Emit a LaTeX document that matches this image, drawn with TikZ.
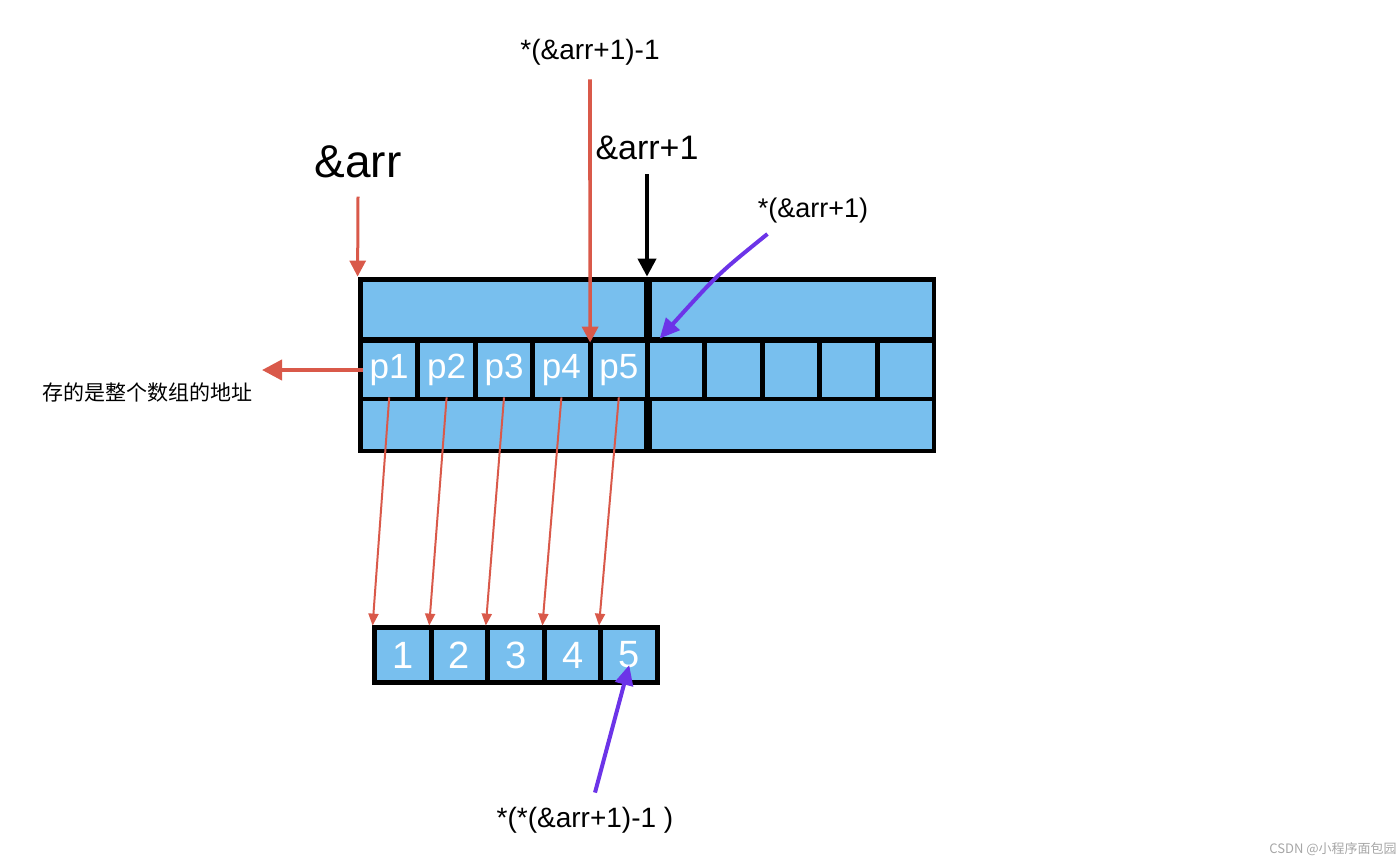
\documentclass[tikz,border=0pt]{standalone}
\usepackage{fontspec}
\setmainfont{Liberation Sans}
\newfontfamily\cjk{Noto Sans CJK SC}
\usetikzlibrary{arrows.meta,calc}
\definecolor{cellblue}{RGB}{120,191,238}
\definecolor{ptrred}{RGB}{217,89,74}
\definecolor{ptrviolet}{RGB}{108,52,232}
\begin{document}
\begin{tikzpicture}[x=0.5pt,y=-0.5pt,
	cell/.style={fill=cellblue,inner sep=0pt,text=white,font=\fontsize{17.5}{17.5}\selectfont},
	frame/.style={fill=black,inner sep=0pt},
	lbl/.style={inner sep=1pt},
	redptr/.style={draw=ptrred,line width=1.8pt,-{Triangle[length=8pt,width=8pt]}},
	thinptr/.style={draw=ptrred,line width=1pt,-{Triangle[length=6pt,width=5pt]}},
	blackptr/.style={draw=black,line width=2pt,-{Triangle[length=9pt,width=9pt]}},
	violetptr/.style={draw=ptrviolet,line width=2pt,-{Triangle[length=10pt,width=9pt]}}]
		\useasboundingbox (0,0) rectangle (1400,862);
		\node[frame,minimum width=289pt,minimum height=88pt] (big) at (647,365) {};
		\node[cell,minimum width=140.5pt,minimum height=27.5pt] (topL) at (503.5,309.5) {};
		\node[cell,minimum width=140pt,minimum height=27.5pt] (topR) at (792,309.5) {};
		\node[cell,minimum width=140.5pt,minimum height=24pt] (botL) at (503.5,425) {};
		\node[cell,minimum width=140pt,minimum height=24pt] (botR) at (792,425) {};
		\foreach \i in {1,...,10}{\node[cell,minimum width=26.2pt,minimum height=27pt] (c\i) at ({389.2+57.4*(\i-1)},370) {\ifnum\i<6 p\i\fi};}
		\node[frame,minimum width=144pt,minimum height=30pt] (vals) at (516,655) {};
		\foreach \i in {1,...,5}{\node[cell,font=\fontsize{19}{19}\selectfont,minimum width=25.8pt,minimum height=25pt] (v\i) at ({402.8+56.6*(\i-1)},655) {\i};}
		\foreach \i in {1,...,5}{\draw[thinptr] (c\i.south) -- ([shift={(-2pt,2pt)}]v\i.north west);}
		\node[lbl,font=\fontsize{23}{23}\selectfont] (amp) at (358,162) {\&arr};
		\draw[redptr,line width=1.5pt] ([yshift=-8pt]amp.south) -- (big.north west);
		\node[lbl,font=\fontsize{14}{14}\selectfont] (minus) at (590,52) {*(\&arr+1)-1};
		\draw[redptr] ([yshift=-6pt]minus.south) -- ($(c4.north east)!0.5!(c5.north west)$);
		\node[lbl,font=\fontsize{17}{17}\selectfont] (plus) at (647,148) {\&arr+1};
		\draw[blackptr] ([yshift=-6pt]plus.south) -- (big.north);
		\node[lbl,font=\fontsize{13.5}{14}\selectfont] (deref) at (813,211) {*(\&arr+1)};
		\draw[violetptr] ([shift={(6pt,-4pt)}]deref.south west) .. controls (718,274) .. ([shift={(5pt,2pt)}]c6.north west);
		\coordinate (addrTip) at (262,370);
		\draw[redptr,line width=2pt,-{Triangle[length=10pt,width=10pt]}] (c1.west) -- (addrTip);
		\node[lbl,font=\cjk\fontsize{10.5}{11}\selectfont] (addr) at (147,393) {存的是整个数组的地址};
		\node[lbl,font=\fontsize{14}{14}\selectfont] (last) at (585,820) {*(*(\&arr+1)-1 )};
		\draw[violetptr] ([shift={(5pt,6pt)}]last.north) -- ([yshift=-5pt]v5.center);
		\node[lbl,text=gray!70,font=\cjk\fontsize{6.5}{7}\selectfont] (credit) at (1333,849) {CSDN @小程序面包园};
\end{tikzpicture}
\end{document}
